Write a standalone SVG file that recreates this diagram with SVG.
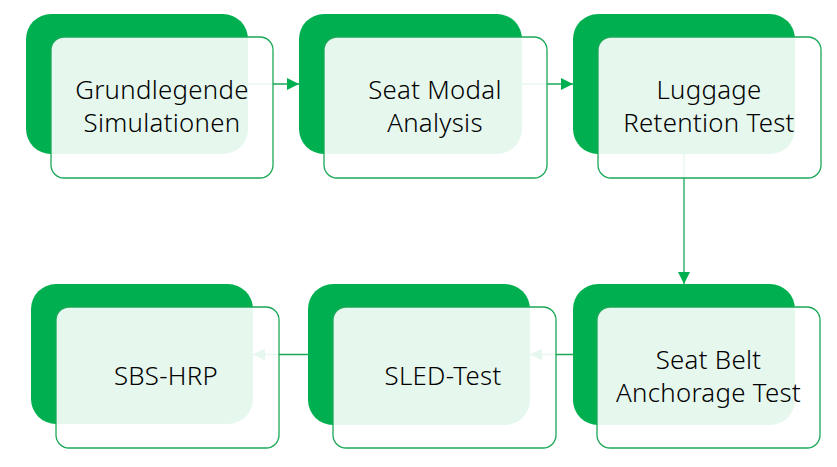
<svg xmlns="http://www.w3.org/2000/svg" width="837" height="467" viewBox="0 0 837 467">
<style>
.back{fill:#00b050;}
.front{fill:#ffffff;fill-opacity:0.9;stroke:#1aa857;stroke-width:1.3;}
.lbl{font-family:"Noto Sans","Open Sans","DejaVu Sans",sans-serif;font-size:25.8px;font-weight:300;letter-spacing:0.3px;fill:#000;text-anchor:middle;}
.conn{stroke:#1aa857;stroke-width:1.3;fill:none;marker-end:url(#arr);}
</style>
<defs>
<marker id="arr" markerUnits="userSpaceOnUse" markerWidth="13" markerHeight="13" refX="12" refY="6.5" orient="auto">
<path d="M0,0.5 L12,6.5 L0,12.5 z" fill="#00b050"/>
</marker>
</defs>
<rect width="837" height="467" fill="#ffffff"/>
<g id="connectors">
<path class="conn" d="M248,84 L299,84"/>
<path class="conn" d="M522,84 L573,84"/>
<path class="conn" d="M684,154 L684,284"/>
<path class="conn" d="M573,354.5 L530,354.5"/>
<path class="conn" d="M308,354.5 L253,354.5"/>
</g>
<g id="node-grundlegende">
<rect class="back" x="26" y="14" width="222" height="140" rx="25"/>
<rect class="front" x="51" y="37" width="222" height="141" rx="13"/>
<text class="lbl" x="162" y="99">Grundlegende</text>
<text class="lbl" x="162" y="132">Simulationen</text>
</g>
<g id="node-seat-modal">
<rect class="back" x="299" y="14" width="223" height="140" rx="25"/>
<rect class="front" x="324" y="37" width="223" height="141" rx="13"/>
<text class="lbl" x="435" y="99">Seat Modal</text>
<text class="lbl" x="435" y="132">Analysis</text>
</g>
<g id="node-luggage">
<rect class="back" x="573" y="14" width="222" height="140" rx="25"/>
<rect class="front" x="598" y="37" width="223" height="141" rx="13"/>
<text class="lbl" x="709" y="99">Luggage</text>
<text class="lbl" x="709" y="132">Retention Test</text>
</g>
<g id="node-seat-belt">
<rect class="back" x="573" y="284" width="222" height="141" rx="25"/>
<rect class="front" x="597" y="307" width="223" height="141" rx="13"/>
<text class="lbl" x="708.5" y="368.5">Seat Belt</text>
<text class="lbl" x="708.5" y="401.5">Anchorage Test</text>
</g>
<g id="node-sled">
<rect class="back" x="308" y="284" width="222" height="141" rx="25"/>
<rect class="front" x="333" y="307" width="223" height="141" rx="13"/>
<text class="lbl" x="443" y="384.5">SLED-Test</text>
</g>
<g id="node-sbs-hrp">
<rect class="back" x="31" y="284" width="222" height="140" rx="25"/>
<rect class="front" x="56" y="307" width="223" height="141" rx="13"/>
<text class="lbl" x="166" y="385">SBS-HRP</text>
</g>
</svg>
